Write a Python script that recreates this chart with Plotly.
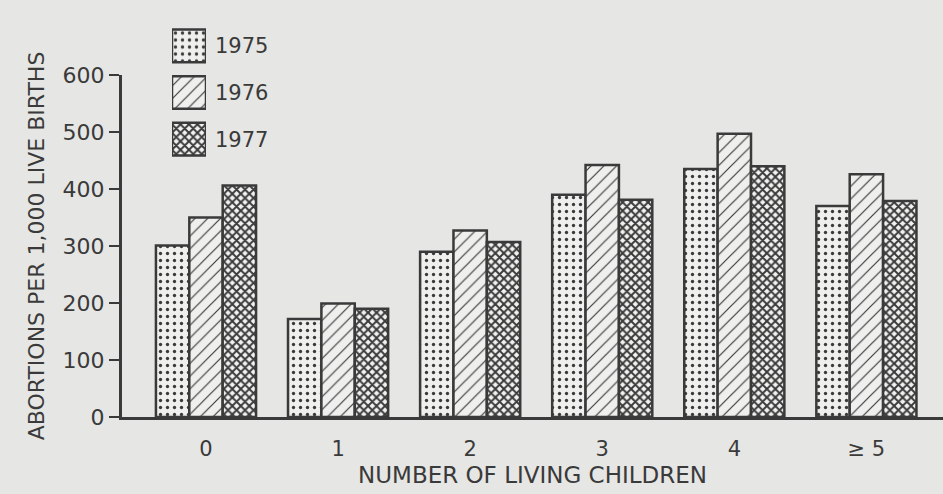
import plotly.graph_objects as go

# dados
children = ["0", "1", "2", "3", "4", "≥ 5"]
years = ["1975", "1976", "1977"]
rate_1975 = [301, 172, 290, 390, 435, 370]
rate_1976 = [350, 199, 327, 442, 497, 426]
rate_1977 = [406, 190, 307, 381, 440, 379]
y_ticks = [0, 100, 200, 300, 400, 500, 600]

INK = "#3a3a3a"
PAPER = "#e6e6e4"
FONT = "DejaVu Sans, Liberation Sans, sans-serif"
BARGAP = 0.242
X_RANGE = [-0.636, 5.58]

patterns = {
    "1975": dict(shape=".", size=7, solidity=0.18, fgcolor=INK, bgcolor="#efefed", fillmode="replace"),
    "1976": dict(shape="/", size=9, solidity=0.13, fgcolor=INK, bgcolor="#efefed", fillmode="replace"),
    "1977": dict(shape="x", size=6, solidity=0.55, fgcolor=INK, bgcolor="#f2f2f0", fillmode="replace"),
}
series = {"1975": rate_1975, "1976": rate_1976, "1977": rate_1977}

fig = go.Figure()

for yr in years:
    fig.add_trace(
        go.Bar(
            x=children,
            y=series[yr],
            name=yr,
            marker=dict(color="#efefed", pattern=patterns[yr], line=dict(color=INK, width=2.5)),
            showlegend=False,
        )
    )

# legenda desenhada como pequeno eixo com barras horizontais
for yr in years:
    fig.add_trace(
        go.Bar(
            x=[1],
            y=[yr],
            orientation="h",
            width=0.7,
            marker=dict(color="#efefed", pattern=patterns[yr], line=dict(color=INK, width=2.5)),
            xaxis="x3",
            yaxis="y3",
            showlegend=False,
            hoverinfo="skip",
        )
    )

# marcas do eixo x nos limites das barras
n = len(years)
bar_w = (1 - BARGAP) / n
edges = []
for i in range(len(children)):
    start = i - (1 - BARGAP) / 2
    edges += [start + k * bar_w for k in range(n + 1)]

main_top = (417 - 75) / (494 - 20 - 77)

fig.update_layout(
    width=943,
    height=494,
    paper_bgcolor=PAPER,
    plot_bgcolor=PAPER,
    font=dict(family=FONT, color=INK, size=20),
    margin=dict(l=122, r=0, t=20, b=77),
    barmode="group",
    bargap=BARGAP,
    bargroupgap=0,
    xaxis=dict(
        type="category",
        range=X_RANGE,
        domain=[0, 1],
        showline=True,
        linewidth=3,
        linecolor=INK,
        ticks="outside",
        ticklen=11,
        tickcolor="rgba(0,0,0,0)",
        tickfont=dict(size=21),
        showgrid=False,
        zeroline=False,
        title=dict(text="NUMBER OF LIVING CHILDREN", font=dict(size=23), standoff=7),
    ),
    xaxis2=dict(
        overlaying="x",
        anchor="y",
        range=X_RANGE,
        domain=[0, 1],
        tickmode="array",
        tickvals=edges,
        ticks="outside",
        ticklen=18,
        tickwidth=2,
        tickcolor=INK,
        showticklabels=False,
        showgrid=False,
        zeroline=False,
        side="bottom",
    ),
    yaxis=dict(
        range=[0, 600],
        domain=[0, main_top],
        tickmode="array",
        tickvals=y_ticks,
        ticks="outside",
        ticklen=10,
        tickwidth=2,
        tickcolor=INK,
        tickfont=dict(size=22),
        showline=True,
        linewidth=3,
        linecolor=INK,
        showgrid=False,
        zeroline=False,
        title=dict(text="ABORTIONS PER 1,000 LIVE BIRTHS", font=dict(size=22), standoff=12),
    ),
    xaxis3=dict(
        domain=[(172 - 122) / 821, (206 - 122) / 821],
        anchor="y3",
        range=[0, 1],
        visible=False,
    ),
    yaxis3=dict(
        domain=[(417 - 162.5) / 397, (417 - 22.5) / 397],
        anchor="x3",
        type="category",
        autorange="reversed",
        side="right",
        showline=False,
        showgrid=False,
        zeroline=False,
        ticks="",
        ticklabelstandoff=8,
        tickfont=dict(size=21),
    ),
)

fig.write_html(
    "out.html",
    config={"displayModeBar": False},
    post_script="document.body.style.margin='0';",
)
